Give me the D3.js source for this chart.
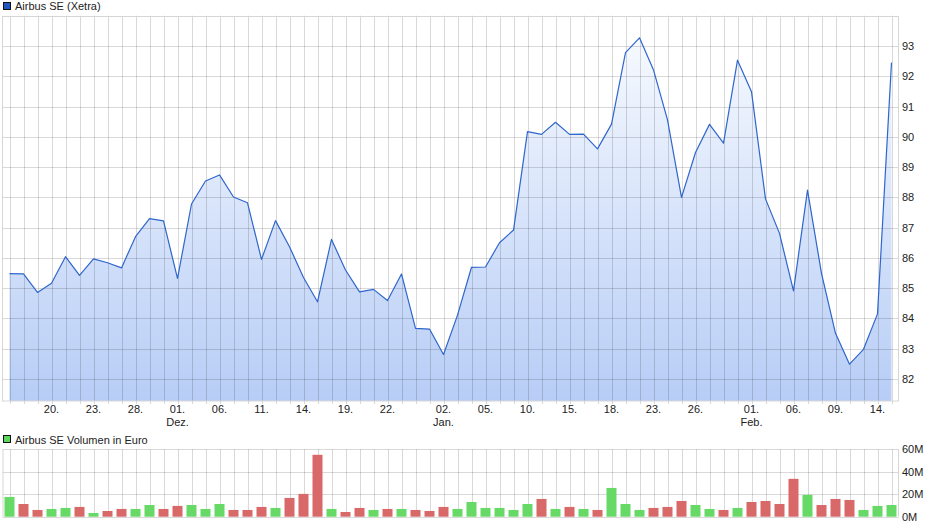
<!DOCTYPE html>
<html><head><meta charset="utf-8">
<script src="https://cdn.jsdelivr.net/npm/d3@7/dist/d3.min.js"></script>
<style>
html,body{margin:0;padding:0;background:#fff;}
svg{display:block;font-family:"Liberation Sans",Arial,sans-serif;}
</style></head>
<body>
<svg id="chart" width="940" height="526"></svg>
<script>
// ---- DATA ----
const dates = [
 "2023-11-15","2023-11-16","2023-11-17","2023-11-20","2023-11-21","2023-11-22","2023-11-23","2023-11-24","2023-11-27","2023-11-28",
 "2023-11-29","2023-11-30","2023-12-01","2023-12-04","2023-12-05","2023-12-06","2023-12-07","2023-12-08","2023-12-11","2023-12-12",
 "2023-12-13","2023-12-14","2023-12-15","2023-12-18","2023-12-19","2023-12-20","2023-12-21","2023-12-22","2023-12-27","2023-12-28",
 "2023-12-29","2024-01-02","2024-01-03","2024-01-04","2024-01-05","2024-01-08","2024-01-09","2024-01-10","2024-01-11","2024-01-12",
 "2024-01-15","2024-01-16","2024-01-17","2024-01-18","2024-01-19","2024-01-22","2024-01-23","2024-01-24","2024-01-25","2024-01-26",
 "2024-01-29","2024-01-30","2024-01-31","2024-02-01","2024-02-02","2024-02-05","2024-02-06","2024-02-07","2024-02-08","2024-02-09",
 "2024-02-12","2024-02-13","2024-02-14","2024-02-15"];
const prices = [
 85.48,85.47,84.86,85.16,86.04,85.42,85.97,85.84,85.67,86.70,
 87.30,87.22,85.32,87.78,88.54,88.74,88.01,87.82,85.95,87.23,
 86.37,85.35,84.55,86.61,85.60,84.88,84.96,84.59,85.47,83.67,
 83.65,82.81,84.11,85.69,85.70,86.50,86.92,90.17,90.08,90.48,
 90.08,90.09,89.60,90.42,92.78,93.27,92.21,90.56,88.00,89.48,
 90.41,89.79,92.53,91.49,87.95,86.81,84.91,88.24,85.49,83.51,
 82.49,82.98,84.15,92.45];
// volume in million euro
const volumes = [
 17.6,11.3,6.0,6.9,7.8,8.7,3.3,5.1,6.9,6.9,
 10.4,6.9,9.6,10.4,6.9,11.3,6.0,6.0,8.7,7.8,
 16.7,20.3,55.1,6.9,4.2,7.8,6.0,6.9,6.9,6.0,
 5.1,8.7,6.9,13.1,7.8,7.8,6.0,11.3,15.8,6.9,
 8.7,6.9,6.0,25.6,11.3,6.0,7.8,8.7,14.0,10.4,
 6.9,6.0,7.8,13.1,14.0,11.3,33.7,19.4,10.4,15.8,
 14.9,6.0,9.6,10.4];
// 1 = up day (green), 0 = down day (red)
const upDay = [
 1,0,0,1,1,0,1,0,0,1,
 1,0,0,1,1,1,0,0,0,1,
 0,0,0,1,0,0,1,0,1,0,
 0,0,1,1,1,1,1,1,0,1,
 0,1,0,1,1,1,0,0,0,1,
 1,0,1,0,0,0,0,1,0,0,
 0,1,1,1];
const tickDates = ["2023-11-20","2023-11-23","2023-11-28","2023-12-01","2023-12-06","2023-12-11","2023-12-14","2023-12-19","2023-12-22",
 "2024-01-02","2024-01-05","2024-01-10","2024-01-15","2024-01-18","2024-01-23","2024-01-26","2024-02-01","2024-02-06","2024-02-09","2024-02-14"];
const tickLabels = ["20.","23.","28.","01.","06.","11.","14.","19.","22.","02.","05.","10.","15.","18.","23.","26.","01.","06.","09.","14."];
const monthDates = ["2023-12-01","2024-01-02","2024-02-01"];
const monthLabels = ["Dez.","Jan.","Feb."];
const priceTicks = [82,83,84,85,86,87,88,89,90,91,92,93];
const volTicks = [0,20,40,60];
const volTickLabels = ["0M","20M","40M","60M"];
const title1 = "Airbus SE (Xetra)";
const title2 = "Airbus SE Volumen in Euro";

// ---- LAYOUT ----
const svg = d3.select("#chart");
const L = 2.5, R = 898.5;
const pTop = 15.7, pBot = 401;
const vTop = 449.3, vBot = 516.7;
const gridCol = "rgba(0,0,0,0.15)";
const textCol = "#222";

const x = d3.scaleBand().domain(dates).range([L, R]);
const cx = d => x(d) + x.bandwidth() / 2;
const y = d3.scaleLinear().domain([81.273, 94]).range([pBot, pTop]);
const yv = d3.scaleLinear().domain([0, 60]).range([vBot, vTop]);

const data = dates.map((d, i) => ({d, p: prices[i], v: volumes[i], up: upDay[i]}));

// gradient
const defs = svg.append("defs");
const grad = defs.append("linearGradient").attr("id", "fillGrad")
  .attr("gradientUnits", "userSpaceOnUse").attr("x1", 0).attr("x2", 0)
  .attr("y1", pTop).attr("y2", pBot);
grad.append("stop").attr("offset", 0).attr("stop-color", "#fafcff");
grad.append("stop").attr("offset", 1).attr("stop-color", "#b7cdf6");

// ---- PRICE PANEL ----
const area = d3.area().x(d => cx(d.d)).y0(pBot).y1(d => y(d.p));
svg.append("path").datum(data).attr("d", area).attr("fill", "url(#fillGrad)");

// grid
const gP = svg.append("g");
gP.selectAll("line.h").data(priceTicks.concat([94])).join("line")
  .attr("x1", L).attr("x2", R).attr("y1", d => Math.round(y(d)) + 0.5).attr("y2", d => Math.round(y(d)) + 0.5)
  .attr("stroke", gridCol);
gP.selectAll("line.v").data(dates).join("line")
  .attr("x1", d => Math.round(cx(d)) + 0.5).attr("x2", d => Math.round(cx(d)) + 0.5)
  .attr("y1", pTop).attr("y2", pBot).attr("stroke", gridCol);
// border
svg.append("rect").attr("x", L).attr("y", Math.round(pTop) + 0.5).attr("width", R - L).attr("height", pBot - Math.round(pTop) - 0.5)
  .attr("fill", "none").attr("stroke", "#d6d6d6");
// tick marks under x-axis
gP.selectAll("line.t").data(dates).join("line")
  .attr("x1", d => Math.round(cx(d)) + 0.5).attr("x2", d => Math.round(cx(d)) + 0.5)
  .attr("y1", pBot).attr("y2", pBot + 3).attr("stroke", "#d6d6d6");

const line = d3.line().x(d => cx(d.d)).y(d => y(d.p));
svg.append("path").datum(data).attr("d", line).attr("fill", "none")
  .attr("stroke", "#2f66cc").attr("stroke-width", 1.2).attr("stroke-linejoin", "round");

// y labels
svg.append("g").selectAll("text").data(priceTicks).join("text")
  .attr("x", 902).attr("y", d => y(d) + 4).attr("font-size", 11).attr("fill", textCol).text(d => d);

// x labels
svg.append("g").selectAll("text").data(tickDates).join("text")
  .attr("x", d => cx(d)).attr("y", 413).attr("text-anchor", "middle").attr("font-size", 11).attr("fill", textCol)
  .text((d, i) => tickLabels[i]);
svg.append("g").selectAll("text").data(monthDates).join("text")
  .attr("x", d => cx(d)).attr("y", 426).attr("text-anchor", "middle").attr("font-size", 11).attr("fill", textCol)
  .text((d, i) => monthLabels[i]);

// legend 1
svg.append("rect").attr("x", 3.5).attr("y", 2.5).attr("width", 7).attr("height", 7).attr("fill", "#1f56c0").attr("stroke", "#111");
svg.append("text").attr("x", 15).attr("y", 10).attr("font-size", 11).attr("fill", textCol).text(title1);

// ---- VOLUME PANEL ----
svg.append("rect").attr("x", 3.5).attr("y", 435.5).attr("width", 7).attr("height", 7).attr("fill", "#5cd65c").attr("stroke", "#111");
svg.append("text").attr("x", 15).attr("y", 443.5).attr("font-size", 11).attr("fill", textCol).text(title2);

const gV = svg.append("g");
gV.selectAll("line.h").data(volTicks).join("line")
  .attr("x1", L).attr("x2", R).attr("y1", d => Math.round(yv(d)) + 0.5).attr("y2", d => Math.round(yv(d)) + 0.5)
  .attr("stroke", gridCol);
gV.selectAll("line.v").data(dates).join("line")
  .attr("x1", d => Math.round(cx(d)) + 0.5).attr("x2", d => Math.round(cx(d)) + 0.5)
  .attr("y1", vTop).attr("y2", vBot).attr("stroke", gridCol);
gV.append("line").attr("x1", L + 0.5).attr("x2", L + 0.5).attr("y1", vTop).attr("y2", vBot).attr("stroke", "#d6d6d6");
gV.append("line").attr("x1", R).attr("x2", R).attr("y1", vTop).attr("y2", vBot).attr("stroke", "#d6d6d6");

const bw = 10;
svg.append("g").selectAll("rect").data(data).join("rect")
  .attr("x", d => cx(d.d) - bw / 2).attr("width", bw)
  .attr("y", d => yv(d.v)).attr("height", d => yv(0) - yv(d.v))
  .attr("fill", d => d.up ? "#66d966" : "#d96969");

svg.append("g").selectAll("text").data(volTicks).join("text")
  .attr("x", 902).attr("y", d => yv(d) + 4).attr("font-size", 11).attr("fill", textCol)
  .text((d, i) => volTickLabels[i]);
</script>
</body></html>
